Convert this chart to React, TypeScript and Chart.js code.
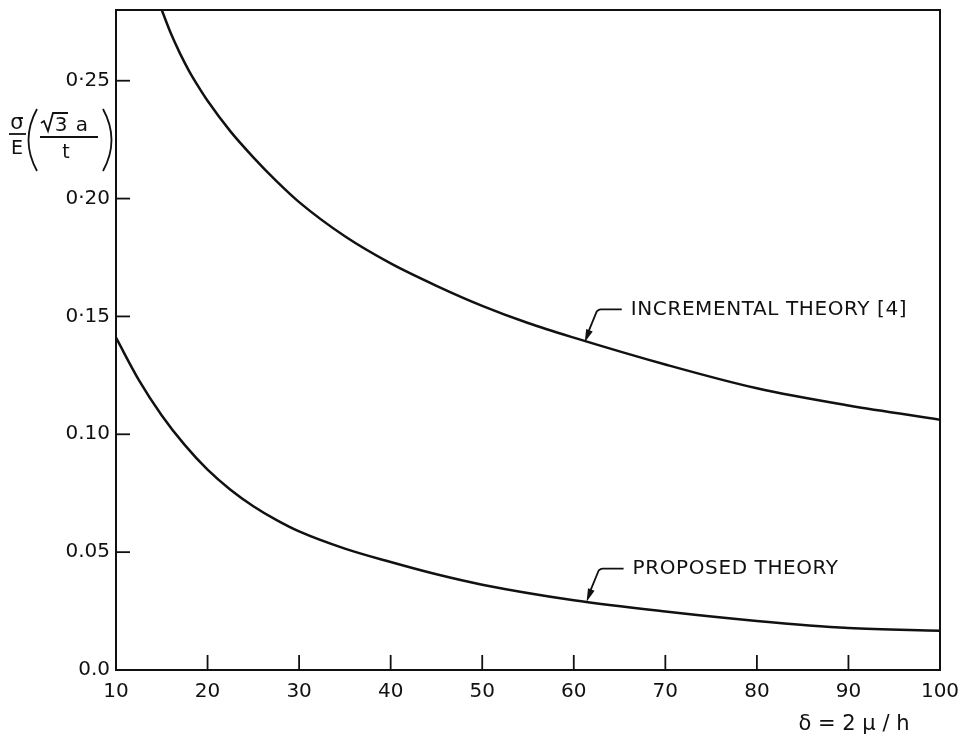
import React, { useEffect, useRef } from 'react';
import { Chart, registerables } from 'chart.js';

Chart.register(...registerables);

// ---- Data ----
const upperDelta = [15, 16, 17, 18, 19, 20, 22.5, 25, 27.5, 30, 35, 40, 45, 50, 55, 60, 70, 80, 90, 100];
const upperSigma = [0.28, 0.27, 0.2615, 0.254, 0.2475, 0.2415, 0.2285, 0.2175, 0.2075, 0.1985, 0.184, 0.1725, 0.163, 0.1545, 0.1472, 0.141, 0.1296, 0.1195, 0.1122, 0.1062];

const lowerDelta = [10, 12.5, 15, 17.5, 20, 22.5, 25, 27.5, 30, 35, 40, 45, 50, 60, 70, 80, 90, 100];
const lowerSigma = [0.141, 0.123, 0.108, 0.0955, 0.085, 0.0765, 0.0695, 0.0637, 0.0588, 0.0515, 0.0458, 0.0406, 0.0362, 0.0296, 0.0248, 0.0208, 0.0178, 0.0166];

const xTickValues = [10, 20, 30, 40, 50, 60, 70, 80, 90, 100];
const xTickLabels = ['10', '20', '30', '40', '50', '60', '70', '80', '90', '100'];
const yTickValues = [0, 0.05, 0.1, 0.15, 0.2, 0.25];
const yTickLabels = ['0.0', '0.05', '0.10', '0·15', '0·20', '0·25'];

const annotationTexts = ['INCREMENTAL THEORY [4]', 'PROPOSED THEORY'];
const annotationDelta = [61.2, 61.4];
const annotationSigma = [0.139, 0.029];

const xTitle = 'δ = 2 μ / h';

const FONT = '"DejaVu Sans", sans-serif';
const INK = '#111';

const decorPlugin = {
  id: 'decor',
  afterDraw(chart: any) {
    const { ctx, chartArea, scales } = chart;
    const { left, right, top, bottom } = chartArea;
    const xs = scales.x;
    const ys = scales.y;
    ctx.save();
    ctx.strokeStyle = INK;
    ctx.fillStyle = INK;
    ctx.lineCap = 'butt';

    // frame
    ctx.lineWidth = 2;
    ctx.strokeRect(left, top, right - left, bottom - top);

    // inward tick marks
    ctx.lineWidth = 1.8;
    xTickValues.forEach((v) => {
      if (v === xs.min || v === xs.max) return;
      const px = xs.getPixelForValue(v);
      ctx.beginPath();
      ctx.moveTo(px, bottom);
      ctx.lineTo(px, bottom - 15);
      ctx.stroke();
    });
    yTickValues.forEach((v) => {
      if (v === ys.min) return;
      const py = ys.getPixelForValue(v);
      ctx.beginPath();
      ctx.moveTo(left, py);
      ctx.lineTo(left + 14, py);
      ctx.stroke();
    });

    // annotations with leaders
    annotationTexts.forEach((txt, i) => {
      const tx = xs.getPixelForValue(annotationDelta[i]);
      const ty = ys.getPixelForValue(annotationSigma[i]);
      const bx = tx + 12;
      const by = ty - 31;
      ctx.lineWidth = 1.8;
      ctx.beginPath();
      ctx.moveTo(tx + 3, ty - 9);
      ctx.lineTo(bx, by);
      ctx.quadraticCurveTo(bx + 2, ty - 33, tx + 16, ty - 33);
      ctx.lineTo(tx + 37, ty - 33);
      ctx.stroke();
      // arrow head
      const dx = bx - tx;
      const dy = by - ty;
      const len = Math.hypot(dx, dy);
      const ux = dx / len;
      const uy = dy / len;
      const hl = 13;
      const hw = 3.5;
      ctx.beginPath();
      ctx.moveTo(tx, ty);
      ctx.lineTo(tx + ux * hl - uy * hw, ty + uy * hl + ux * hw);
      ctx.lineTo(tx + ux * hl + uy * hw, ty + uy * hl - ux * hw);
      ctx.closePath();
      ctx.fill();
      // text
      ctx.font = `20px ${FONT}`;
      (ctx as any).letterSpacing = '0.6px';
      ctx.textAlign = 'left';
      ctx.textBaseline = 'middle';
      ctx.fillText(txt, tx + 46, ty - 33);
      (ctx as any).letterSpacing = '0px';
    });

    // x-axis title
    ctx.font = `21px ${FONT}`;
    ctx.textAlign = 'center';
    ctx.textBaseline = 'middle';
    ctx.fillText(xTitle, 854, 725);

    // y-axis title: sigma/E ( sqrt3 a / t )
    ctx.lineWidth = 1.8;
    ctx.font = `21px ${FONT}`;
    ctx.textAlign = 'center';
    ctx.textBaseline = 'alphabetic';
    ctx.fillText('σ', 17, 129);
    ctx.beginPath();
    ctx.moveTo(9, 134);
    ctx.lineTo(26, 134);
    ctx.stroke();
    ctx.font = `19px ${FONT}`;
    ctx.fillText('E', 17, 154);
    // parentheses
    ctx.beginPath();
    ctx.moveTo(37, 109);
    ctx.quadraticCurveTo(20, 140, 37, 171);
    ctx.stroke();
    ctx.beginPath();
    ctx.moveTo(103, 109);
    ctx.quadraticCurveTo(120, 140, 103, 171);
    ctx.stroke();
    // sqrt sign
    ctx.beginPath();
    ctx.moveTo(41, 123);
    ctx.lineTo(44, 121);
    ctx.lineTo(48, 131);
    ctx.lineTo(53, 113);
    ctx.lineTo(68, 113);
    ctx.stroke();
    ctx.font = `20px ${FONT}`;
    ctx.fillText('3', 61, 131);
    ctx.fillText('a', 82, 131);
    ctx.beginPath();
    ctx.moveTo(40, 137);
    ctx.lineTo(98, 137);
    ctx.stroke();
    ctx.font = `19px ${FONT}`;
    ctx.fillText('t', 66, 158);

    ctx.restore();
  },
};

export default function App() {
  const ref = useRef<HTMLCanvasElement>(null);
  useEffect(() => {
    if (!ref.current) return;
    const chart = new Chart(ref.current, {
      type: 'line',
      data: {
        datasets: [
          {
            label: annotationTexts[0],
            data: upperDelta.map((x, i) => ({ x, y: upperSigma[i] })),
            borderColor: INK,
            borderWidth: 2.5,
            pointRadius: 0,
            cubicInterpolationMode: 'monotone',
            fill: false,
          },
          {
            label: annotationTexts[1],
            data: lowerDelta.map((x, i) => ({ x, y: lowerSigma[i] })),
            borderColor: INK,
            borderWidth: 2.5,
            pointRadius: 0,
            cubicInterpolationMode: 'monotone',
            fill: false,
          },
        ],
      },
      options: {
        responsive: false,
        animation: false,
        devicePixelRatio: 1,
        layout: { padding: { top: 10, right: 24, left: 0, bottom: 0 } },
        plugins: { legend: { display: false }, tooltip: { enabled: false } },
        scales: {
          x: {
            type: 'linear',
            min: 10,
            max: 100,
            afterBuildTicks: (s: any) => {
              s.ticks = xTickValues.map((v) => ({ value: v }));
            },
            afterFit: (s: any) => {
              s.height = 69;
              s.paddingLeft = 0;
              s.paddingRight = 0;
            },
            ticks: {
              autoSkip: false,
              maxRotation: 0,
              padding: 10,
              color: INK,
              font: { size: 20, family: FONT },
              callback: (_v: any, i: number) => xTickLabels[i],
            },
            grid: { display: false, drawTicks: false },
            border: { display: false },
          },
          y: {
            type: 'linear',
            min: 0,
            max: 0.28,
            afterBuildTicks: (s: any) => {
              s.ticks = yTickValues.map((v) => ({ value: v }));
            },
            afterFit: (s: any) => {
              s.width = 116;
              s.paddingTop = 0;
              s.paddingBottom = 0;
            },
            ticks: {
              autoSkip: false,
              padding: 6,
              color: INK,
              font: { size: 20, family: FONT },
              callback: (_v: any, i: number) => yTickLabels[i],
            },
            grid: { display: false, drawTicks: false },
            border: { display: false },
          },
        },
      },
      plugins: [decorPlugin],
    } as any);
    return () => chart.destroy();
  }, []);
  return (
    <div style={{ position: 'absolute', left: 0, top: 0, width: 964, height: 739, background: '#fff' }}>
      <canvas ref={ref} width={964} height={739} style={{ display: 'block' }} />
    </div>
  );
}
